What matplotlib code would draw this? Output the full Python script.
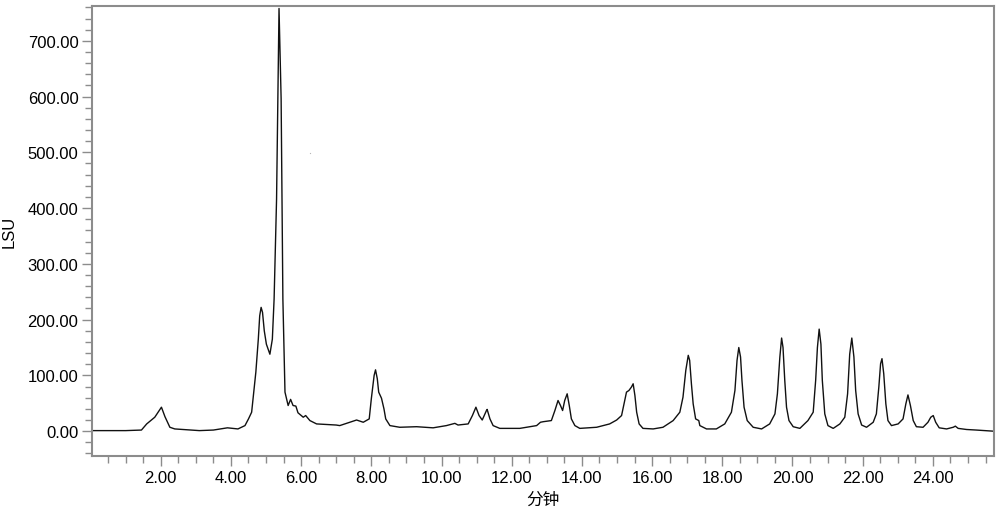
import matplotlib
matplotlib.use("Agg")
import matplotlib.pyplot as plt
from matplotlib.ticker import MultipleLocator, FormatStrFormatter

# retention time (min) and detector signal (LSU)
time_min = [0.05, 0.5, 1.0, 1.45, 1.6, 1.83, 2.02, 2.12, 2.26, 2.4, 3.1, 3.5, 3.9, 4.2,
            4.4, 4.5, 4.59, 4.63, 4.71, 4.78, 4.82, 4.86, 4.90, 4.95, 5.01, 5.11,
            5.18, 5.23, 5.30, 5.37, 5.43, 5.48, 5.54, 5.63, 5.70, 5.77, 5.85, 5.91,
            6.06, 6.13, 6.25, 6.44, 7.0, 7.1, 7.44, 7.58, 7.77, 7.94, 8.0, 8.08,
            8.12, 8.17, 8.21, 8.29, 8.36, 8.41, 8.53, 8.81, 9.29, 9.76, 10.14,
            10.38, 10.47, 10.76, 10.88, 10.98, 11.07, 11.16, 11.28, 11.30, 11.38,
            11.47, 11.66, 12.23, 12.71, 12.82, 12.9, 13.13, 13.23, 13.32, 13.39,
            13.45, 13.51, 13.58, 13.64, 13.70, 13.80, 13.94, 14.42, 14.79, 14.99,
            15.13, 15.20, 15.27, 15.34, 15.41, 15.46, 15.51, 15.56, 15.63, 15.74,
            16.03, 16.31, 16.6, 16.79, 16.88, 16.96, 17.03, 17.07, 17.12, 17.17,
            17.24, 17.33, 17.36, 17.55, 17.83, 18.07, 18.26, 18.36, 18.42, 18.47,
            18.52, 18.56, 18.62, 18.71, 18.88, 19.12, 19.35, 19.5, 19.57, 19.64,
            19.69, 19.73, 19.78, 19.83, 19.9, 20.02, 20.21, 20.44, 20.59, 20.66,
            20.71, 20.76, 20.81, 20.85, 20.92, 21.01, 21.16, 21.35, 21.49, 21.57,
            21.63, 21.69, 21.75, 21.8, 21.87, 21.97, 22.11, 22.3, 22.39, 22.46,
            22.51, 22.55, 22.6, 22.66, 22.72, 22.82, 23.01, 23.15, 23.23, 23.29,
            23.36, 23.44, 23.53, 23.72, 23.86, 23.94, 24.01, 24.08, 24.18, 24.39,
            24.58, 24.64, 24.72, 24.96, 25.24, 25.72]
signal_lsu = [1, 1, 1, 2, 13, 25, 43, 26, 7, 4, 1, 2, 6, 4,
              10, 22, 34, 58, 106, 165, 207, 222, 213, 180, 156, 138,
              165, 237, 416, 758, 596, 237, 70, 46, 57, 46, 45, 33,
              25, 28, 19, 13, 11, 10, 17, 20, 16, 22, 58, 100,
              110, 94, 70, 59, 40, 22, 10, 7, 8, 6, 10,
              14, 11, 13, 28, 43, 28, 20, 37, 39, 22,
              10, 5, 5, 10, 16, 17, 19, 37, 55, 46,
              37, 55, 67, 46, 22, 10, 5, 7, 13, 20,
              28, 49, 70, 73, 79, 85, 64, 34, 13, 5,
              4, 7, 19, 34, 61, 109, 136, 127, 85, 49,
              22, 19, 10, 4, 4, 13, 34, 73, 127, 150,
              133, 91, 43, 19, 7, 4, 13, 31, 67, 133,
              167, 150, 91, 43, 19, 8, 5, 19, 34, 91,
              150, 183, 156, 91, 31, 10, 5, 13, 25, 67,
              138, 167, 133, 73, 31, 11, 7, 16, 31, 79,
              121, 130, 103, 49, 19, 10, 13, 22, 49, 65,
              46, 19, 8, 7, 16, 25, 28, 16, 6, 4,
              7, 9, 5, 3, 2, 0]

# stray speck seen on the plot area
speck_t = [6.26]
speck_v = [499]

fig = plt.figure(figsize=(10, 5.1), dpi=100)
ax = fig.add_axes([0.0923, 0.1045, 0.902, 0.8824])

ax.plot(time_min, signal_lsu, color="#111111", linewidth=1.0)
ax.plot(speck_t, speck_v, "o", color="#b5b5b5", markersize=0.9, markeredgewidth=0)

ax.set_xlim(0.05, 25.75)
ax.set_ylim(-44, 763)

ax.xaxis.set_major_locator(MultipleLocator(2))
ax.xaxis.set_minor_locator(MultipleLocator(0.5))
ax.yaxis.set_major_locator(MultipleLocator(100))
ax.yaxis.set_minor_locator(MultipleLocator(20))
ax.xaxis.set_major_formatter(FormatStrFormatter("%.2f"))
ax.yaxis.set_major_formatter(FormatStrFormatter("%.2f"))

fam = ["Liberation Sans", "Noto Sans CJK SC", "DejaVu Sans"]
ax.tick_params(which="both", direction="out", color="#8c8c8c", width=1,
               labelsize=12, labelcolor="black")
ax.tick_params(which="major", length=7, pad=3)
ax.tick_params(which="minor", length=5)
for lab in ax.get_xticklabels() + ax.get_yticklabels():
    lab.set_family(fam)

for side in ["left", "bottom", "top", "right"]:
    ax.spines[side].set_color("#8c8c8c")
    ax.spines[side].set_linewidth(1.5)

ax.set_ylabel("LSU", family=fam, fontsize=12)
ax.yaxis.set_label_coords(-0.0835, 0.5)
ax.set_xlabel("分钟", family=fam, fontsize=12, labelpad=5)

fig.savefig("out.png", dpi=100)
